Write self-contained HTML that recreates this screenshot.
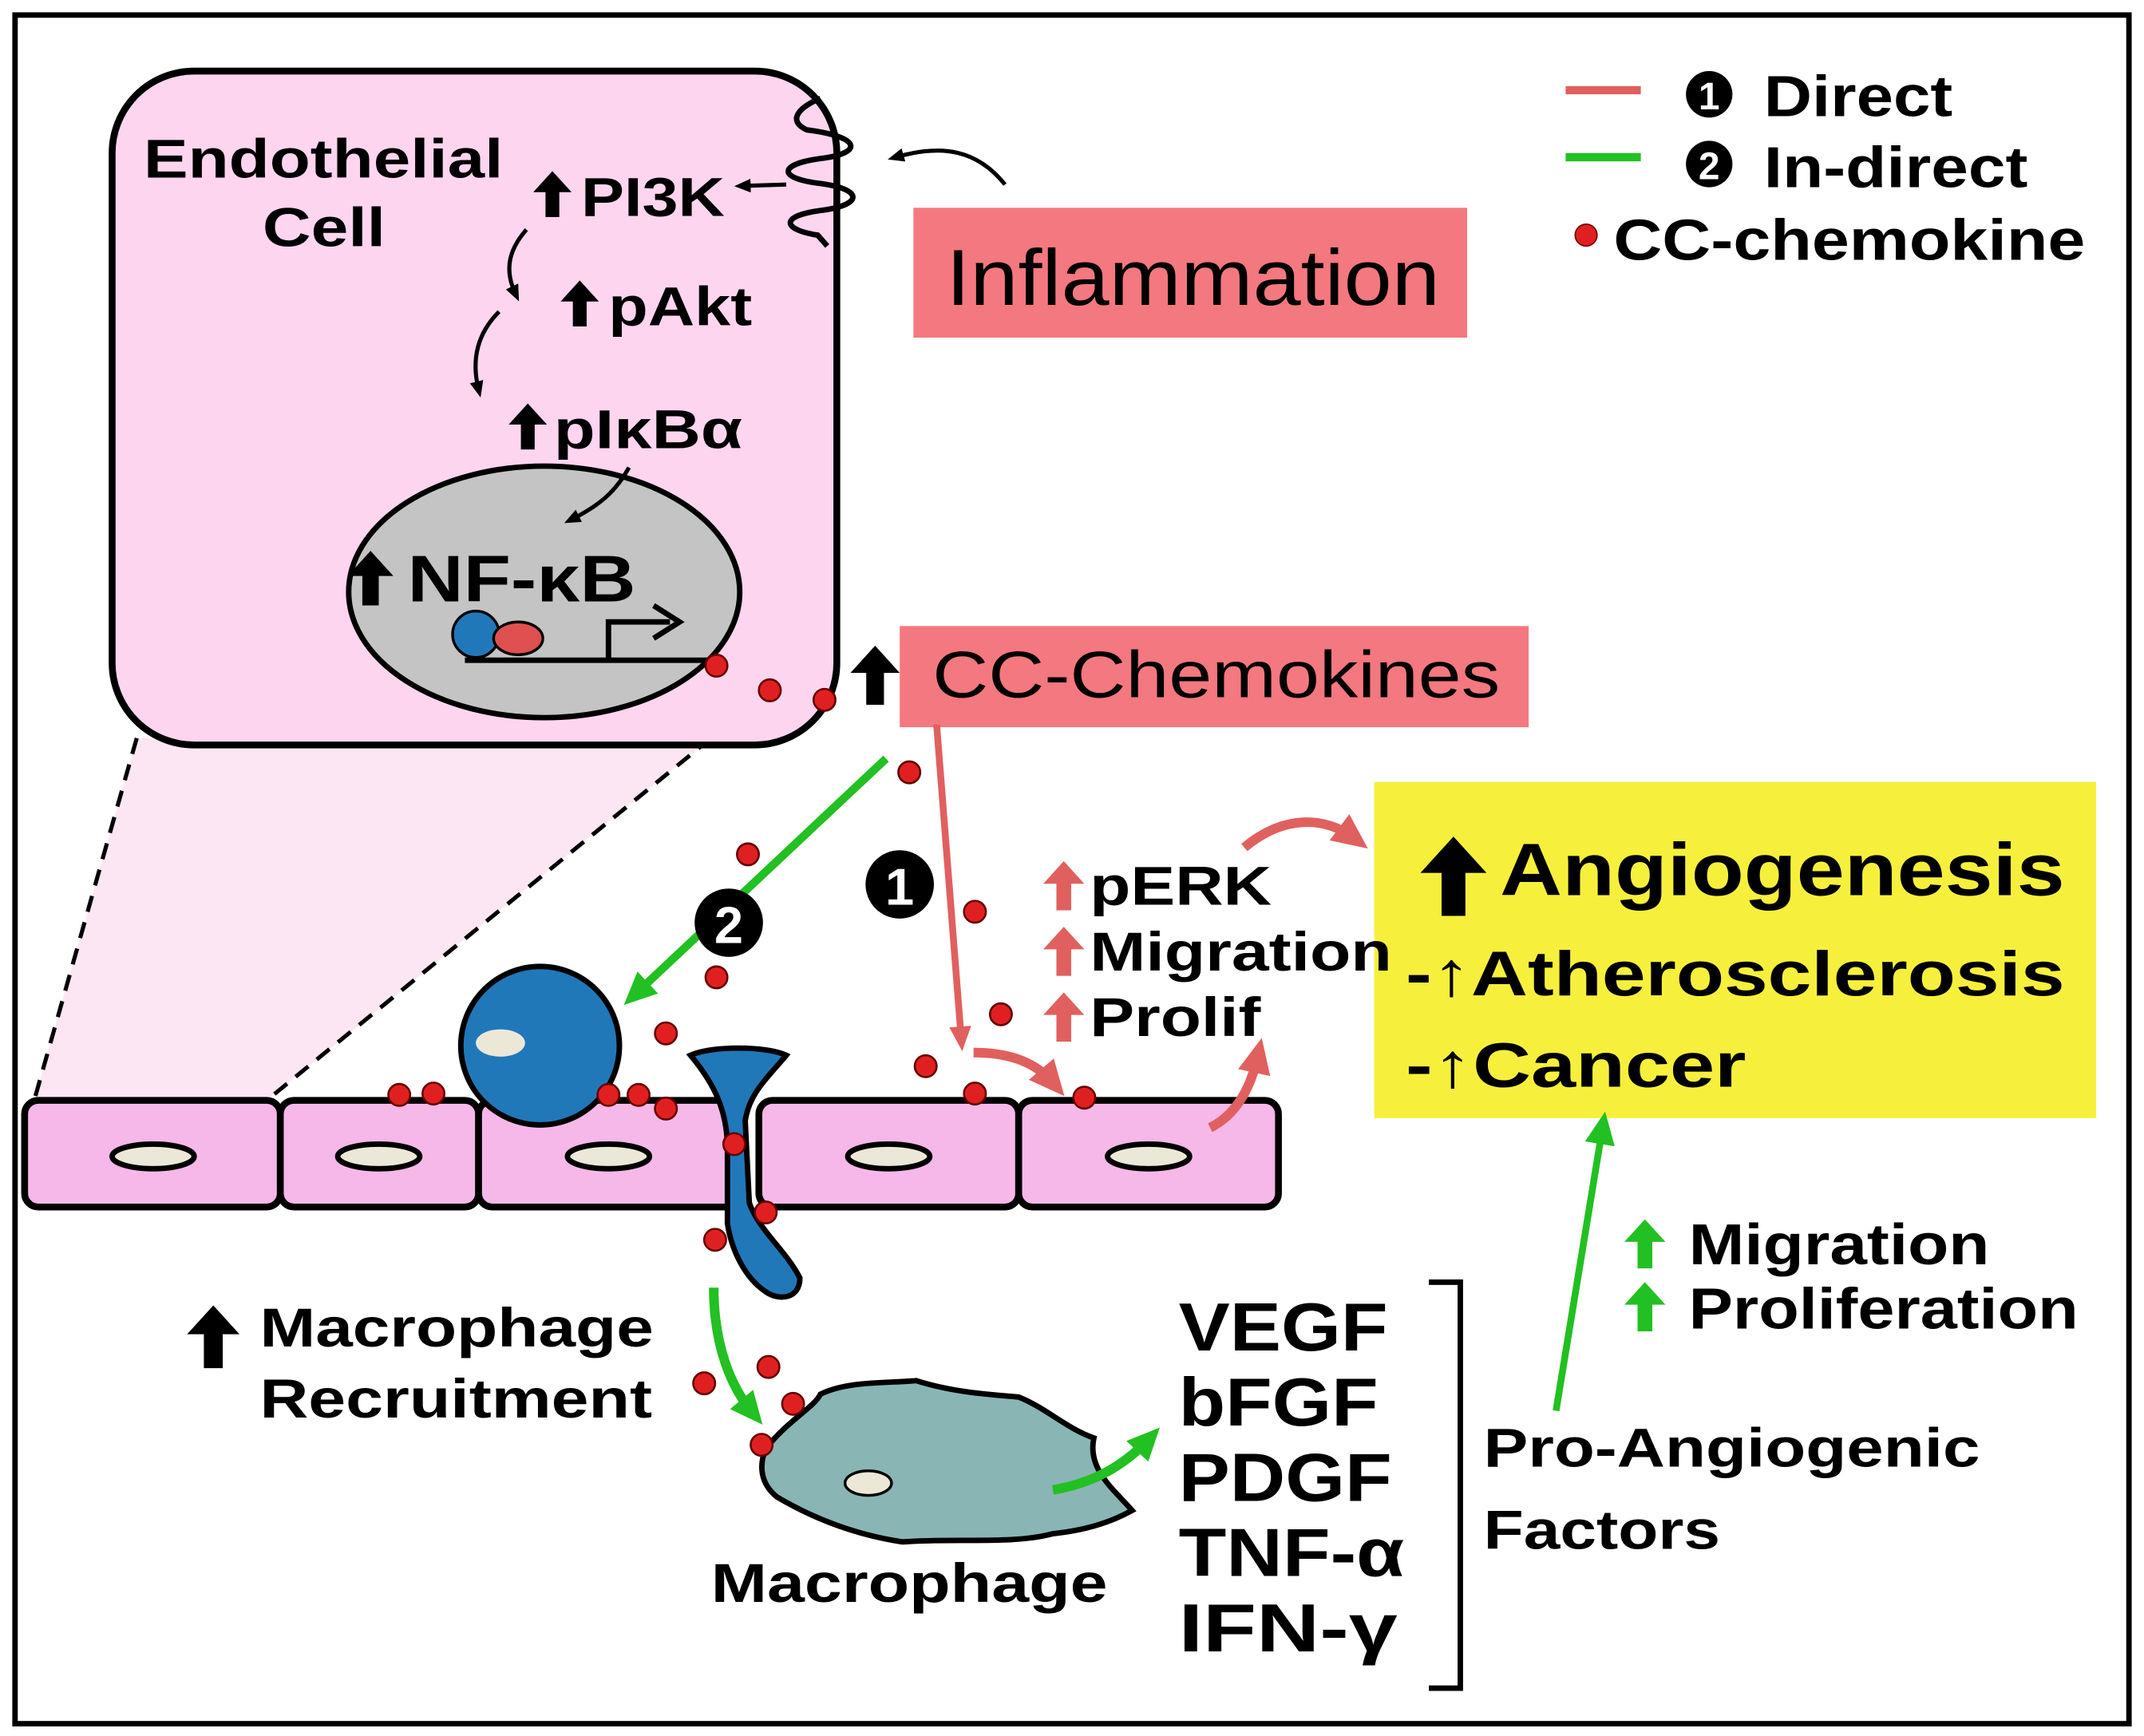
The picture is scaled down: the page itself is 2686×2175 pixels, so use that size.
<!DOCTYPE html>
<html><head><meta charset="utf-8"><style>
html,body{margin:0;padding:0;background:#fff}
svg{display:block}
text{font-family:"Liberation Sans",sans-serif;font-weight:bold;fill:#000}
</style></head><body>
<svg width="2686" height="2175" viewBox="0 0 1568 1270" preserveAspectRatio="none" xmlns="http://www.w3.org/2000/svg" xmlns:xlink="http://www.w3.org/1999/xlink">
<defs>
<marker id="ar" markerWidth="26" markerHeight="26" refX="13" refY="13" orient="auto" markerUnits="userSpaceOnUse"><path d="M0,1 L26,13 L0,25 z" fill="#e0605f"/></marker>
<marker id="ars" markerWidth="18" markerHeight="18" refX="9" refY="9" orient="auto" markerUnits="userSpaceOnUse"><path d="M0,1 L18,9 L0,17 z" fill="#e0605f"/></marker>
<marker id="ag" markerWidth="24" markerHeight="24" refX="12" refY="12" orient="auto" markerUnits="userSpaceOnUse"><path d="M0,1 L24,12 L0,23 z" fill="#22c022"/></marker>
<marker id="ak" markerWidth="12" markerHeight="12" refX="6" refY="6" orient="auto" markerUnits="userSpaceOnUse"><path d="M0,1 L12,6 L0,11 z" fill="#000"/></marker>
<symbol id="up" viewBox="0 0 10 12"><path d="M5,0 L10,5.5 L6.8,5.5 L6.8,12 L3.2,12 L3.2,5.5 L0,5.5 z"/></symbol>
</defs>
<rect x="0" y="0" width="1568" height="1270" fill="#fff"/>
<rect x="11" y="11" width="1546" height="1250" fill="none" stroke="#000" stroke-width="4"/>

<polygon points="100,540 520,540 195,805 25,805" fill="#fde6f3"/>
<line x1="100" y1="540" x2="25" y2="805" stroke="#000" stroke-width="3" stroke-dasharray="12,8"/>
<line x1="520" y1="540" x2="195" y2="805" stroke="#000" stroke-width="3" stroke-dasharray="12,8"/>

<!-- Endothelial cell -->
<rect x="82" y="52" width="530" height="493" rx="60" fill="#fdd5ee" stroke="#000" stroke-width="5"/>
<text x="105" y="130" font-size="40" textLength="263" lengthAdjust="spacingAndGlyphs">Endothelial</text>
<text x="192" y="180" font-size="40" textLength="90" lengthAdjust="spacingAndGlyphs">Cell</text>
<path d="M600,72 C585,78 575,88 590,95 C630,100 632,112 600,116 C570,120 568,130 598,134 C632,138 632,150 600,154 C570,158 572,168 598,172 L605,180" fill="none" stroke="#000" stroke-width="4"/>
<path d="M735,135 C715,110 690,105 655,115" fill="none" stroke="#000" stroke-width="3" marker-end="url(#ak)"/>
<line x1="575" y1="135" x2="543" y2="136" stroke="#000" stroke-width="3" marker-end="url(#ak)"/>
<use xlink:href="#up" x="390" y="125" width="28" height="34" fill="#000"/>
<text x="425" y="158" font-size="40" textLength="105" lengthAdjust="spacingAndGlyphs">PI3K</text>
<use xlink:href="#up" x="410" y="205" width="28" height="34" fill="#000"/>
<text x="445" y="238" font-size="40" textLength="105" lengthAdjust="spacingAndGlyphs">pAkt</text>
<use xlink:href="#up" x="372" y="295" width="28" height="34" fill="#000"/>
<text x="405" y="328" font-size="40" textLength="138" lengthAdjust="spacingAndGlyphs">pIκBα</text>
<path d="M385,168 C370,185 370,200 377,215" fill="none" stroke="#000" stroke-width="3" marker-end="url(#ak)"/>
<path d="M365,228 C348,245 345,265 350,285" fill="none" stroke="#000" stroke-width="3" marker-end="url(#ak)"/>
<ellipse cx="398" cy="433" rx="143" ry="92" fill="#c4c4c4" stroke="#000" stroke-width="4"/>
<path d="M460,342 C450,360 438,370 418,380" fill="none" stroke="#000" stroke-width="3" marker-end="url(#ak)"/>
<use xlink:href="#up" x="254" y="403" width="34" height="40" fill="#000"/>
<text x="298" y="440" font-size="48" textLength="167" lengthAdjust="spacingAndGlyphs">NF-κB</text>
<line x1="340" y1="483" x2="520" y2="483" stroke="#000" stroke-width="4"/>
<path d="M445,483 L445,455 L490,455" fill="none" stroke="#000" stroke-width="4"/>
<path d="M478,443 L497,455 L478,467" fill="none" stroke="#000" stroke-width="4"/>
<circle cx="348" cy="464" r="17" fill="#2178b8" stroke="#000" stroke-width="2"/>
<ellipse cx="379" cy="467" rx="18" ry="12" fill="#e05050" stroke="#000" stroke-width="2"/>

<rect x="668" y="152" width="405" height="95" fill="#f4787f"/>
<text x="692" y="223" font-size="58" textLength="361" lengthAdjust="spacingAndGlyphs" style="font-weight:normal">Inflammation</text>
<rect x="658" y="458" width="460" height="74" fill="#f4787f"/>
<text x="682" y="510" font-size="48" textLength="415" lengthAdjust="spacingAndGlyphs" style="font-weight:normal">CC-Chemokines</text>
<use xlink:href="#up" x="622" y="472" width="36" height="44" fill="#000"/>

<!-- Legend -->
<line x1="1145" y1="66" x2="1200" y2="66" stroke="#e0605f" stroke-width="6"/>
<line x1="1145" y1="115" x2="1200" y2="115" stroke="#22c022" stroke-width="6"/>
<circle cx="1250" cy="69" r="17" fill="#000"/><text x="1250" y="80" font-size="28" text-anchor="middle" style="fill:#fff">1</text>
<circle cx="1250" cy="120" r="17" fill="#000"/><text x="1250" y="131" font-size="28" text-anchor="middle" style="fill:#fff">2</text>
<text x="1290" y="85" font-size="42" textLength="138" lengthAdjust="spacingAndGlyphs">Direct</text>
<text x="1290" y="137" font-size="42" textLength="193" lengthAdjust="spacingAndGlyphs">In-direct</text>
<circle cx="1160" cy="172" r="8" fill="#e02020" stroke="#700" stroke-width="1"/>
<text x="1180" y="190" font-size="42" textLength="345" lengthAdjust="spacingAndGlyphs">CC-chemokine</text>

<!-- Yellow box -->
<rect x="1005" y="572" width="528" height="246" fill="#f6f03c"/>
<use xlink:href="#up" x="1035" y="612" width="56" height="58" fill="#000"/>
<text x="1097" y="655" font-size="54" textLength="413" lengthAdjust="spacingAndGlyphs">Angiogenesis</text>
<text x="1028" y="728" font-size="46" textLength="482" lengthAdjust="spacingAndGlyphs">-↑Atherosclerosis</text>
<text x="1028" y="795" font-size="46" textLength="249" lengthAdjust="spacingAndGlyphs">-↑Cancer</text>

<g fill="#f5b8e8" stroke="#000" stroke-width="5">
<rect x="18" y="805" width="187" height="78" rx="10"/>
<rect x="205" y="805" width="145" height="78" rx="10"/>
<rect x="350" y="805" width="190" height="78" rx="10"/>
<rect x="555" y="805" width="190" height="78" rx="10"/>
<rect x="745" y="805" width="190" height="78" rx="10"/>
</g>
<g fill="#ece8d8" stroke="#000" stroke-width="4">
<ellipse cx="112" cy="846" rx="30" ry="9"/>
<ellipse cx="277" cy="846" rx="30" ry="9"/>
<ellipse cx="445" cy="846" rx="30" ry="9"/>
<ellipse cx="650" cy="846" rx="30" ry="9"/>
<ellipse cx="840" cy="846" rx="30" ry="9"/>
</g>
<circle cx="395" cy="765" r="58" fill="#2178b8" stroke="#000" stroke-width="4"/>
<ellipse cx="366" cy="763" rx="18" ry="10" fill="#ece8d8"/>
<path d="M505,772 C520,765 560,765 575,772 C560,790 548,800 545,820 L548,880 C555,900 575,915 585,935 C585,950 570,952 560,945 C545,935 535,915 532,895 L532,840 C532,810 520,790 505,772 z" fill="#2178b8" stroke="#000" stroke-width="4"/>
<path d="M560,1060 C575,1040 595,1030 600,1020 C620,1010 650,1012 670,1010 C695,1018 720,1020 745,1022 C765,1030 780,1045 800,1052 C795,1075 815,1090 828,1105 C810,1115 790,1120 770,1122 C740,1130 700,1125 660,1128 C620,1122 590,1108 568,1095 C556,1085 555,1072 560,1060 z" fill="#8ab5b5" stroke="#000" stroke-width="4"/>
<ellipse cx="635" cy="1085" rx="17" ry="9" fill="#ece8d8" stroke="#000" stroke-width="2"/>

<line x1="648" y1="555" x2="465" y2="727" stroke="#22c022" stroke-width="6" marker-end="url(#ag)"/>
<line x1="685" y1="530" x2="703" y2="760" stroke="#e0605f" stroke-width="5" marker-end="url(#ars)"/>
<path d="M910,620 C940,595 970,598 990,613" fill="none" stroke="#e0605f" stroke-width="7" marker-end="url(#ar)"/>
<path d="M712,770 C740,770 758,778 770,792" fill="none" stroke="#e0605f" stroke-width="7" marker-end="url(#ar)"/>
<path d="M885,825 C905,815 915,795 920,772" fill="none" stroke="#e0605f" stroke-width="7" marker-end="url(#ar)"/>
<path d="M522,942 C522,985 535,1015 550,1033" fill="none" stroke="#22c022" stroke-width="7" marker-end="url(#ag)"/>
<path d="M770,1090 C800,1085 822,1072 840,1053" fill="none" stroke="#22c022" stroke-width="7" marker-end="url(#ag)"/>
<line x1="1138" y1="1032" x2="1172" y2="825" stroke="#22c022" stroke-width="5" marker-end="url(#ag)"/>

<circle cx="658" cy="647" r="25" fill="#000"/><text x="658" y="662" font-size="38" text-anchor="middle" style="fill:#fff">1</text>
<circle cx="533" cy="675" r="25" fill="#000"/><text x="533" y="690" font-size="38" text-anchor="middle" style="fill:#fff">2</text>

<g fill="#e02020" stroke="#600" stroke-width="1.5">
<circle cx="524" cy="487" r="8"/><circle cx="563" cy="505" r="8"/><circle cx="603" cy="512" r="8"/>
<circle cx="665" cy="565" r="8"/><circle cx="547" cy="625" r="8"/><circle cx="713" cy="667" r="8"/>
<circle cx="524" cy="715" r="8"/><circle cx="487" cy="756" r="8"/><circle cx="732" cy="742" r="8"/>
<circle cx="677" cy="780" r="8"/><circle cx="713" cy="800" r="8"/><circle cx="793" cy="803" r="8"/>
<circle cx="292" cy="801" r="8"/><circle cx="317" cy="800" r="8"/><circle cx="445" cy="801" r="8"/>
<circle cx="467" cy="801" r="8"/><circle cx="487" cy="811" r="8"/><circle cx="537" cy="837" r="8"/>
<circle cx="560" cy="887" r="8"/><circle cx="523" cy="907" r="8"/><circle cx="562" cy="1000" r="8"/>
<circle cx="515" cy="1012" r="8"/><circle cx="580" cy="1027" r="8"/><circle cx="557" cy="1057" r="8"/>
</g>

<use xlink:href="#up" x="762" y="630" width="32" height="36" fill="#e0605f"/>
<use xlink:href="#up" x="762" y="678" width="32" height="36" fill="#e0605f"/>
<use xlink:href="#up" x="762" y="726" width="32" height="36" fill="#e0605f"/>
<text x="797" y="662" font-size="40" textLength="133" lengthAdjust="spacingAndGlyphs">pERK</text>
<text x="797" y="710" font-size="40" textLength="221" lengthAdjust="spacingAndGlyphs">Migration</text>
<text x="797" y="758" font-size="40" textLength="125" lengthAdjust="spacingAndGlyphs">Prolif</text>

<use xlink:href="#up" x="135" y="955" width="42" height="46" fill="#000"/>
<text x="190" y="985" font-size="40" textLength="288" lengthAdjust="spacingAndGlyphs">Macrophage</text>
<text x="190" y="1037" font-size="40" textLength="287" lengthAdjust="spacingAndGlyphs">Recruitment</text>
<text x="520" y="1172" font-size="40" textLength="290" lengthAdjust="spacingAndGlyphs">Macrophage</text>

<text x="862" y="988" font-size="50" textLength="153" lengthAdjust="spacingAndGlyphs">VEGF</text>
<text x="862" y="1043" font-size="50" textLength="146" lengthAdjust="spacingAndGlyphs">bFGF</text>
<text x="862" y="1098" font-size="50" textLength="156" lengthAdjust="spacingAndGlyphs">PDGF</text>
<text x="862" y="1153" font-size="50" textLength="165" lengthAdjust="spacingAndGlyphs">TNF-α</text>
<text x="862" y="1208" font-size="50" textLength="160" lengthAdjust="spacingAndGlyphs">IFN-γ</text>
<path d="M1045,938 L1068,938 L1068,1235 L1045,1235" fill="none" stroke="#000" stroke-width="4"/>
<text x="1085" y="1073" font-size="40" textLength="363" lengthAdjust="spacingAndGlyphs">Pro-Angiogenic</text>
<text x="1085" y="1133" font-size="40" textLength="173" lengthAdjust="spacingAndGlyphs">Factors</text>

<use xlink:href="#up" x="1185" y="892" width="36" height="36" fill="#22c022"/>
<use xlink:href="#up" x="1185" y="938" width="36" height="36" fill="#22c022"/>
<text x="1235" y="925" font-size="42" textLength="220" lengthAdjust="spacingAndGlyphs">Migration</text>
<text x="1235" y="972" font-size="42" textLength="285" lengthAdjust="spacingAndGlyphs">Proliferation</text>
</svg>
</body></html>
